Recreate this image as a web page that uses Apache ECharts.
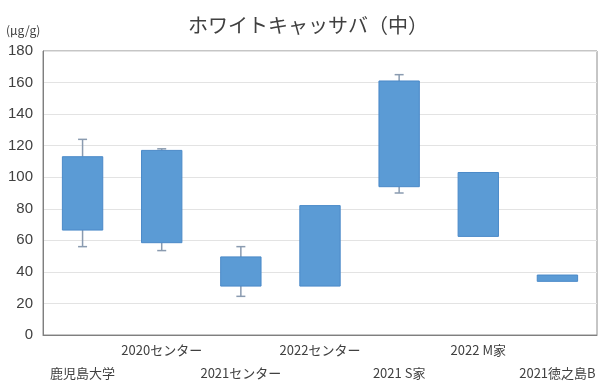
<!DOCTYPE html>
<html>
<head>
<meta charset="utf-8">
<script src="https://cdn.jsdelivr.net/npm/echarts@6/dist/echarts.min.js"></script>
<style>
  html, body { margin: 0; padding: 0; background: #fff; }
  #chart { width: 600px; height: 385px; }
</style>
</head>
<body>
<div id="chart"></div>
<script>
// Sample groups on the category axis
const categories = ['鹿児島大学', '2020センター', '2021センター', '2022センター', '2021 S家', '2022 M家', '2021徳之島B'];
// Whisker ends and box bounds (μg/g)
const whiskerLow = [56, 53.5, 24.5, 31, 90, 62.5, 34];
const boxLow = [66.5, 58.5, 31, 31, 94, 62.5, 34];
const boxHigh = [113, 117, 49.5, 82, 161, 103, 38];
const whiskerHigh = [124, 118, 56, 82, 165, 103, 38];
// Value axis ticks
const yMin = 0, yMax = 180, yStep = 20;

const rows = categories.map((c, i) => [i, whiskerLow[i], boxLow[i], boxHigh[i], whiskerHigh[i]]);

const chart = echarts.init(document.getElementById('chart'), null, { renderer: 'canvas' });

function renderBox(params, api) {
  const idx = api.value(0);
  const pLow = api.coord([idx, api.value(1)]);
  const pQ1 = api.coord([idx, api.value(2)]);
  const pQ3 = api.coord([idx, api.value(3)]);
  const pHigh = api.coord([idx, api.value(4)]);
  const bandW = api.size([1, 0])[0];
  const boxW = bandW * 0.51;
  const capW = 9;
  const x = pQ1[0];
  const whiskerStyle = { stroke: '#8a9bb0', lineWidth: 1.5 };
  const children = [];
  if (pHigh[1] < pQ3[1] - 0.5) {
    children.push({ type: 'line', shape: { x1: x, y1: pQ3[1], x2: x, y2: pHigh[1] }, style: whiskerStyle });
    children.push({ type: 'line', shape: { x1: x - capW / 2, y1: pHigh[1], x2: x + capW / 2, y2: pHigh[1] }, style: whiskerStyle });
  }
  if (pLow[1] > pQ1[1] + 0.5) {
    children.push({ type: 'line', shape: { x1: x, y1: pQ1[1], x2: x, y2: pLow[1] }, style: whiskerStyle });
    children.push({ type: 'line', shape: { x1: x - capW / 2, y1: pLow[1], x2: x + capW / 2, y2: pLow[1] }, style: whiskerStyle });
  }
  children.push({
    type: 'rect',
    shape: { x: x - boxW / 2, y: pQ3[1], width: boxW, height: pQ1[1] - pQ3[1] },
    style: { fill: '#5b9bd5', stroke: '#4a89c8', lineWidth: 1 }
  });
  return { type: 'group', children: children };
}

chart.setOption({
  animation: false,
  backgroundColor: '#ffffff',
  title: {
    text: 'ホワイトキャッサバ（中）',
    left: 303,
    textAlign: 'center',
    top: 10,
    textStyle: { fontFamily: 'Noto Sans CJK JP', fontSize: 20, fontWeight: 'normal', color: '#404040' }
  },
  graphic: [{
    type: 'text',
    left: 6,
    top: 24,
    style: { text: '(μg/g)', font: '12px "Noto Sans CJK JP"', fill: '#404040' }
  }],
  grid: {
    left: 43, right: 3, top: 51, bottom: 45,
    show: true, borderColor: '#8c8c8c', borderWidth: 1
  },
  xAxis: {
    type: 'category',
    data: categories,
    boundaryGap: true,
    axisLine: { show: true, lineStyle: { color: '#7f7f7f', width: 1 } },
    axisTick: { show: false },
    axisLabel: {
      interval: 0,
      hideOverlap: false,
      margin: 4,
      verticalAlign: 'top',
      lineHeight: 23,
      fontFamily: 'Noto Sans CJK JP',
      fontSize: 13,
      color: '#404040',
      formatter: (v, i) => (i % 2 === 0 ? '\n' + v : v)
    }
  },
  yAxis: {
    type: 'value',
    min: yMin, max: yMax, interval: yStep,
    axisLine: { show: true, lineStyle: { color: '#7f7f7f', width: 1 } },
    axisTick: { show: false },
    axisLabel: { margin: 10, fontFamily: 'Liberation Sans', fontSize: 15, color: '#404040' },
    splitLine: { lineStyle: { color: '#e3e3e3', width: 1 } }
  },
  series: [{
    type: 'custom',
    renderItem: renderBox,
    data: rows,
    encode: { x: 0, y: [1, 2, 3, 4] },
    clip: false
  }]
});
</script>
</body>
</html>
